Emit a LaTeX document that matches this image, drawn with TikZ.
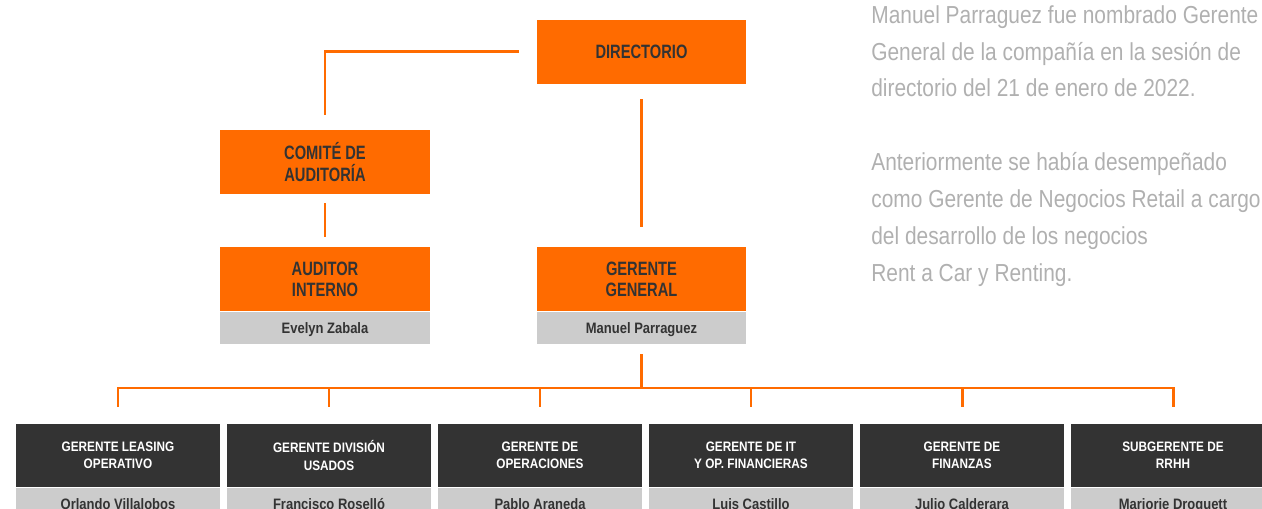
\documentclass[tikz,border=0pt]{standalone}
\usepackage{fontspec}
\setmainfont{Liberation Sans}
\newfontfamily\boxfont{Liberation Sans}[FakeStretch=0.76]
\newfontfamily\smallfont{Liberation Sans}[FakeStretch=0.86]
\newfontfamily\notefont{Liberation Sans}[FakeStretch=0.85]
\usetikzlibrary{positioning}
\definecolor{morange}{HTML}{FF6B00}
\definecolor{mdark}{HTML}{333333}
\definecolor{mgray}{HTML}{CCCCCC}
\definecolor{mtext}{HTML}{B0B0B0}
\tikzset{head/.style = {fill=morange, text=mdark, minimum width=4.2cm, minimum height=1.28cm, inner sep=0, align=center, font=\boxfont\bfseries\fontsize{11}{12}\selectfont}}
\tikzset{unit/.style = {fill=mdark, text=white, minimum width=4.08cm, minimum height=1.26cm, inner sep=0, align=center, font=\smallfont\bfseries\fontsize{7.8}{9.7}\selectfont}}
\tikzset{who/.style = {fill=mgray, text=mdark, minimum width=#1, minimum height=0.64cm, inner sep=0, text height=1.6ex, text depth=0.4ex, font=\smallfont\bfseries\fontsize{8.6}{10}\selectfont}}
\tikzset{link/.style = {morange, line width=1.7pt}}
\tikzset{note/.style = {text=mtext, inner sep=0, align=left, font=\notefont\fontsize{14}{21}\selectfont}}

\begin{document}
\begin{tikzpicture}[x=0.02cm, y=-0.02cm]
    \useasboundingbox (0, 0) rectangle (1262, 509);

    \node [head, minimum width=4.18cm] (dir) at (641.5, 52) {DIRECTORIO};
    \node [head] (comite) at (325, 162) {COMITÉ DE\\AUDITORÍA};
    \node [head] (aud) at (325, 279) {AUDITOR\\INTERNO};
    \node [who=4.2cm, below=0pt of aud] (audname) {Evelyn Zabala};
    \node [head, minimum width=4.18cm] (gg) at (641.5, 279) {GERENTE\\GENERAL};
    \node [who=4.18cm, below=0pt of gg] (ggname) {Manuel Parraguez};

    \draw [link, shorten <=0.36cm, shorten >=0.3cm] (dir.west) -| (comite.north);
    \draw [link, shorten <=0.18cm, shorten >=0.2cm] (comite) -- (aud);
    \draw [link, shorten <=0.3cm, shorten >=0.4cm] (dir) -- (gg);

    \coordinate (bus) at (641.5, 388);
    \draw [link, shorten <=0.2cm] (ggname) -- (bus);

    \foreach \job/\who [count=\i from 0] in {GERENTE LEASING\\OPERATIVO/Orlando Villalobos,
        GERENTE DIVISIÓN\\USADOS/Francisco Roselló,
        GERENTE DE\\OPERACIONES/Pablo Araneda,
        GERENTE DE IT\\Y OP. FINANCIERAS/Luis Castillo,
        GERENTE DE\\FINANZAS/Julio Calderara,
        SUBGERENTE DE\\RRHH/Marjorie Droguett}{
      \node [unit] (u\i) at (118 + 211*\i, 455.5) {\job};
      \node [who=4.08cm, below=0pt of u\i] (n\i) {\who};
      \draw [link, shorten >=0.34cm] (bus) -| (u\i.north);
    }

    \node [note, anchor=north west] (info) at (871, 5) {Manuel Parraguez fue nombrado Gerente\\General de la compañía en la sesión de\\directorio del 21 de enero de 2022.\\[21pt]Anteriormente se había desempeñado\\como Gerente de Negocios Retail a cargo\\del desarrollo de los negocios\\Rent a Car y Renting.};
  \end{tikzpicture}
\end{document}
